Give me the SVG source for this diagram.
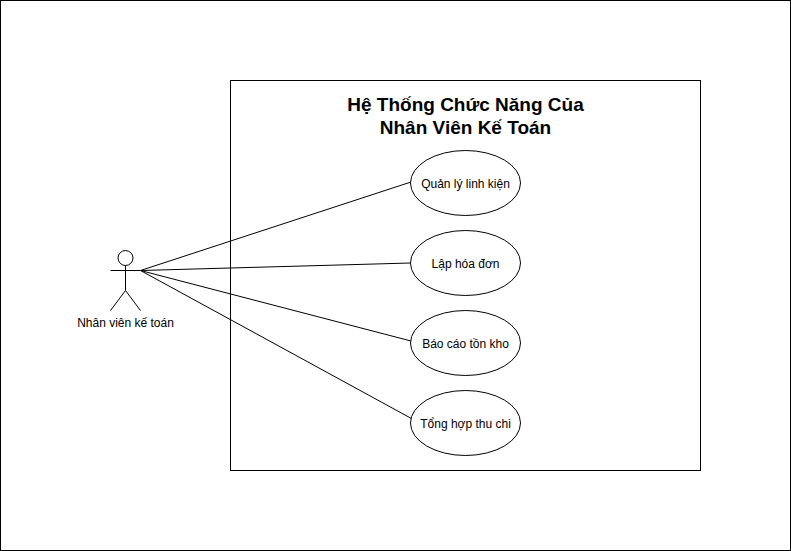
<svg xmlns="http://www.w3.org/2000/svg" width="791" height="551" viewBox="0 0 791 551">
<style>
text{font-family:"Liberation Sans",Arial,sans-serif;fill:#000;text-anchor:middle}
.s{fill:none;stroke:#000;stroke-width:1}
.e{fill:#fff;stroke:#000;stroke-width:1}
.l{font-size:12px}
.t{font-size:19px;font-weight:bold}
</style>
<rect width="791" height="551" fill="#fff"/>
<rect id="frame" class="s" x="0.5" y="0.5" width="790" height="550"/>
<g id="system"><rect class="s" x="230.5" y="80.5" width="470" height="390"/>
<text class="t" x="465.5" y="111">Hệ Thống Chức Năng Của</text>
<text class="t" x="465.5" y="134">Nhân Viên Kế Toán</text></g>
<g id="connectors">
<path class="s" d="M140.5 270.5L411 182"/>
<path class="s" d="M140.5 270.5L410.5 263"/>
<path class="s" d="M140.5 270.5L411 341"/>
<path class="s" d="M140.5 270.5L416 421"/>
</g>
<g id="actor"><circle class="e" cx="125.5" cy="258" r="7.5"/>
<path class="s" d="M125.5 265.5V290.5M110.5 270.5H140.5M125.5 290.5L110.5 310.5M125.5 290.5L140.5 310.5"/>
<text class="l" x="125.5" y="327">Nhân viên kế toán</text></g>
<g id="uc1"><ellipse class="e" cx="465.5" cy="183" rx="55" ry="32.5"/><text class="l" x="465.5" y="188">Quản lý linh kiện</text></g>
<g id="uc2"><ellipse class="e" cx="465.5" cy="263" rx="55" ry="32.5"/><text class="l" x="465.5" y="268">Lập hóa đơn</text></g>
<g id="uc3"><ellipse class="e" cx="465.5" cy="343" rx="55" ry="32.5"/><text class="l" x="465.5" y="348">Báo cáo tồn kho</text></g>
<g id="uc4"><ellipse class="e" cx="465.5" cy="423" rx="55" ry="32.5"/><text class="l" x="465.5" y="428">Tổng hợp thu chi</text></g>
</svg>
